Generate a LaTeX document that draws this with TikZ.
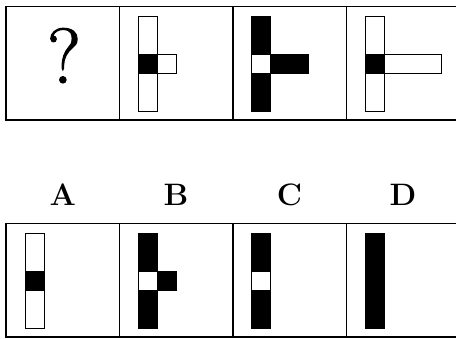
\documentclass[tikz,border=0pt]{standalone}
\usepackage{fontspec}
\newfontfamily\qfont[FakeBold=1.5]{Latin Modern Roman}
\tikzset{
  frame/.style={line width=1.4pt, black},
  blk/.style={draw=black, line width=0.7pt, fill=black},
  wht/.style={draw=black, line width=0.7pt, fill=white},
  lbl/.style={anchor=base, inner sep=0pt, font=\fontsize{31}{36}\selectfont\bfseries},
}
% #1 left, #2 top, #3 top seg style, #4 middle seg style, #5 bottom seg style
\newcommand\vbar[5]{%
  \path[#3] (#1,#2) rectangle ++(19,38);
  \path[#5] (#1,#2) ++(0,57) rectangle ++(19,38);
  \path[#4] (#1,#2) ++(0,38) rectangle ++(19,19);}
% #1 left of bar, #2 top of bar, #3 arm length, #4 style
\newcommand\arm[4]{%
  \path[#4] (#1,#2) ++(19,38) rectangle ++(#3,19);}
\begin{document}
\begin{tikzpicture}[x=1pt,y=-1pt]
\useasboundingbox (0,0) rectangle (456,338);
\clip (0,0) rectangle (456,338);
\fill[white] (0,0) rectangle (456,338);
% top row
\draw[frame] (6,6.5) rectangle (459.6,120);
\foreach \x in {119.4,232.8,346.2} \draw[frame] (\x,6.5) -- (\x,120);
\node[anchor=base, inner sep=0pt, font=\qfont\fontsize{78}{80}\selectfont] (q) at (64,83) {?};
\vbar{138.4}{16}{wht}{blk}{wht}
\arm{138.4}{16}{19}{wht}
\vbar{251.8}{16}{blk}{wht}{blk}
\arm{251.8}{16}{38}{blk}
\vbar{365.2}{16}{wht}{blk}{wht}
\arm{365.2}{16}{57}{wht}
% labels
\node[lbl] (la) at (62.7,205) {A};
\node[lbl] (lb) at (176.1,205) {B};
\node[lbl] (lc) at (289.5,205) {C};
\node[lbl] (ld) at (402.9,205) {D};
% bottom row
\draw[frame] (6,223.5) rectangle (459.6,337);
\foreach \x in {119.4,232.8,346.2} \draw[frame] (\x,223.5) -- (\x,337);
\vbar{25}{233}{wht}{blk}{wht}
\vbar{138.4}{233}{blk}{wht}{blk}
\arm{138.4}{233}{19}{blk}
\vbar{251.8}{233}{blk}{wht}{blk}
\vbar{365.2}{233}{blk}{blk}{blk}
\end{tikzpicture}
\end{document}
